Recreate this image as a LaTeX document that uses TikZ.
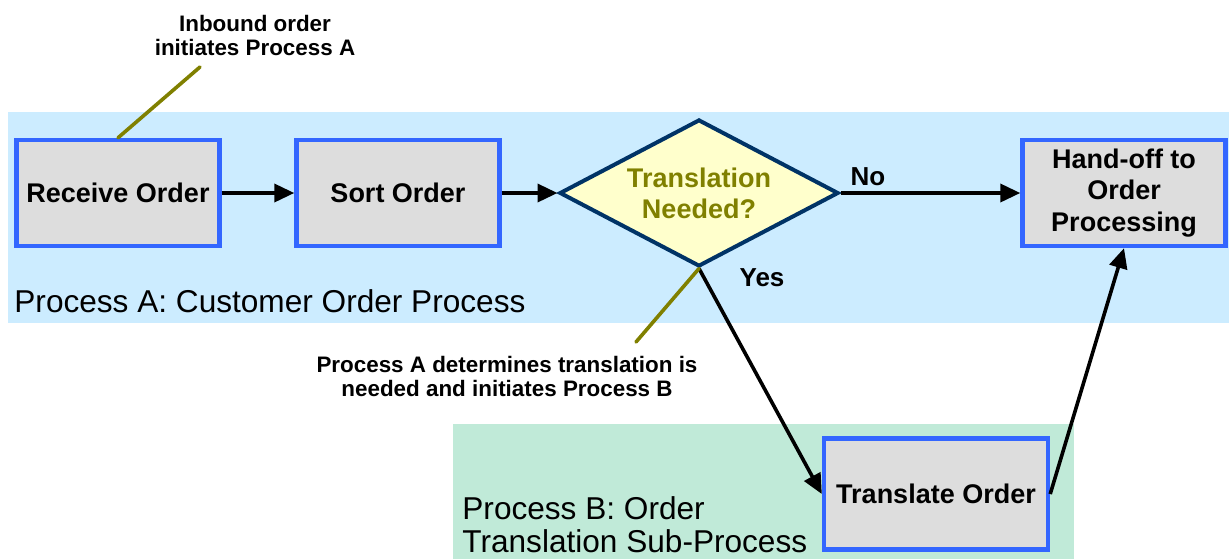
\documentclass[tikz,border=0pt]{standalone}
\usepackage{fontspec}
\setmainfont{Liberation Sans}
\usepackage{xcolor}
\usepackage{tikz}
\usetikzlibrary{shapes.geometric,arrows.meta}
\definecolor{bandblue}{RGB}{204,236,255}
\definecolor{bandgreen}{RGB}{192,234,216}
\definecolor{boxblue}{RGB}{51,102,255}
\definecolor{boxgray}{RGB}{221,221,221}
\definecolor{noteolive}{RGB}{128,128,0}
\definecolor{decidefill}{RGB}{255,255,204}
\definecolor{decideline}{RGB}{0,51,102}

\begin{document}
\begin{tikzpicture}[x=0.5pt,y=-0.5pt,
		stepbox/.style={draw=boxblue, line width=2.2pt, fill=boxgray, minimum width=101.5pt, minimum height=53pt, align=center, font=\bfseries\fontsize{13.5}{15.75}\selectfont},
		decision/.style={diamond, draw=decideline, line width=2pt, fill=decidefill, text=noteolive, inner sep=0pt, aspect=1.88, minimum width=139.5pt, minimum height=73.5pt, align=center, font=\bfseries\fontsize{13.5}{15.5}\selectfont},
		flow/.style={line width=1.8pt, -{Triangle[length=10pt,width=9pt]}},
		noteline/.style={noteolive, line width=1.8pt, line cap=round},
		note/.style={align=center, font=\bfseries\fontsize{11.2}{12}\selectfont},
		band/.style={align=left, inner sep=0pt, font=\fontsize{15.8}{16.5}\selectfont}]
							\useasboundingbox (0,0) rectangle (1229,559);
							\fill[bandblue] (8,112) rectangle (1229,323);
							\fill[bandgreen] (453,424) rectangle (1074,559);
							
							\node[stepbox] (recv) at (118,193) {Receive Order};
							\node[stepbox] (sort) at (398,193) {Sort Order};
							\node[decision] (decide) at (699,193) {Translation\\Needed?};
							\node[stepbox] (handoff) at (1124,193) {Hand-off to\\Order\\Processing};
							\node[stepbox, minimum width=112pt, minimum height=55.5pt] (trans) at (936,494) {Translate Order};
							
							\draw[flow] (recv) -- (sort);
							\draw[flow] (sort) -- (decide);
							\draw[flow] (decide.east) -- (handoff.west);
							\draw[flow] (decide.south) -- (trans.west);
							\draw[flow] (trans.east) -- (handoff.south);
							
							\node[font=\bfseries\fontsize{13}{15}\selectfont] (no) at (868,177) {No};
							\node[font=\bfseries\fontsize{13}{15}\selectfont] (yes) at (762,278) {Yes};
							
							\coordinate (inboundtip) at (200,67);
							\coordinate (determinetip) at (636,342);
							\draw[noteline] (inboundtip) -- (recv.north);
							\draw[noteline] (determinetip) -- (decide.south);
							\node[note] (inbound) at (255,35) {Inbound order\\initiates Process A};
							\node[note] (determine) at (507,376) {Process A determines translation is\\needed and initiates Process B};
							
							\node[band, anchor=base west] (procA) at (14,312) {Process A: Customer Order Process};
							\node[band, anchor=base west] (procB) at (462,552) {Process B: Order\\Translation Sub-Process};
						\end{tikzpicture}
\end{document}
